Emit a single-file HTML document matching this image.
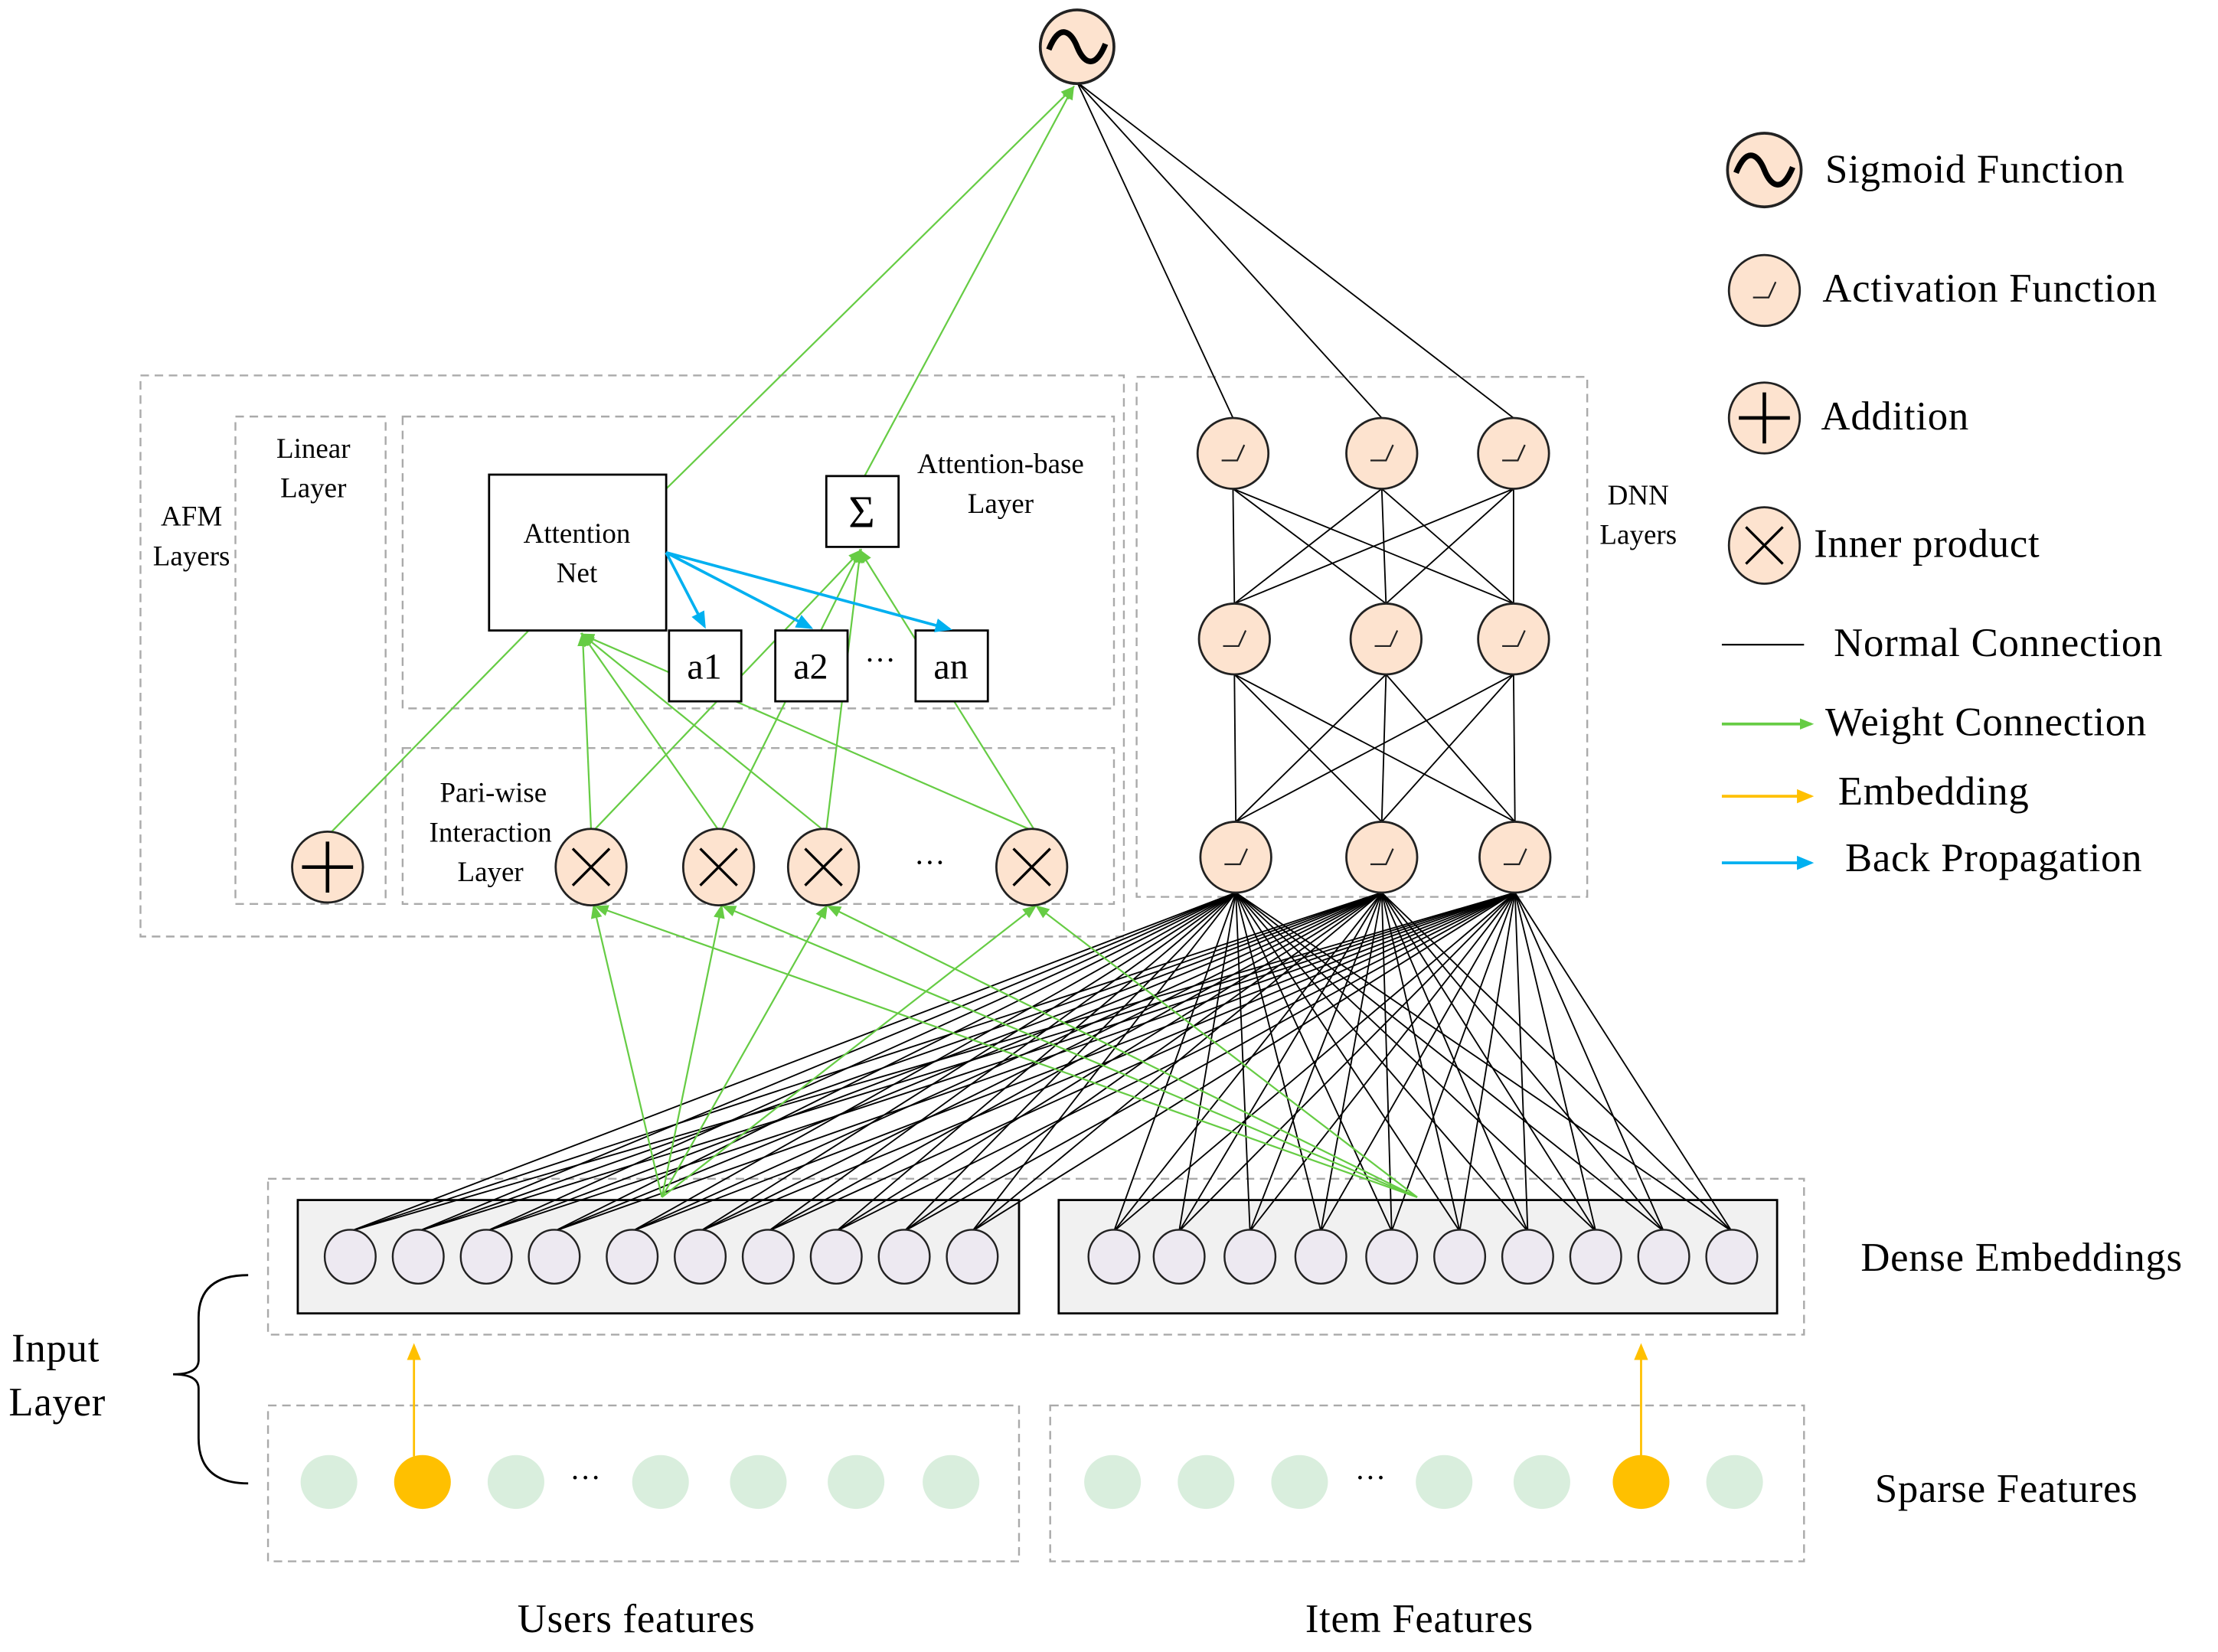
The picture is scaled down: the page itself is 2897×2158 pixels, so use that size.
<!DOCTYPE html>
<html><head><meta charset="utf-8"><style>
html,body{margin:0;padding:0;background:#fff;}
svg{display:block;}
text{font-family:"Liberation Serif",serif;fill:#000;}
</style></head><body>
<svg id="s" width="2897" height="2158" viewBox="0 0 1565 1166" xmlns="http://www.w3.org/2000/svg">
<defs>
<marker id="ag" markerWidth="10" markerHeight="10" refX="8" refY="5" orient="auto" markerUnits="userSpaceOnUse"><path d="M0,1 L10,5 L0,9 z" fill="#66cc44"/></marker>
<marker id="ab" markerWidth="12" markerHeight="10" refX="10" refY="5" orient="auto" markerUnits="userSpaceOnUse"><path d="M0,0 L12,5 L0,10 z" fill="#00b0f0"/></marker>
<marker id="ay" markerWidth="12" markerHeight="10" refX="10" refY="5" orient="auto" markerUnits="userSpaceOnUse"><path d="M0,0 L12,5 L0,10 z" fill="#ffc000"/></marker>
</defs>
<g fill="none" stroke="#aaa" stroke-width="1.3" stroke-dasharray="6,4">
<rect x="99" y="265" width="694" height="396"/>
<rect x="166" y="294" width="106" height="344"/>
<rect x="284" y="294" width="502" height="206"/>
<rect x="284" y="528" width="502" height="110"/>
<rect x="802" y="266" width="318" height="367"/>
<rect x="189" y="832" width="1084" height="110"/>
<rect x="189" y="992" width="530" height="110"/>
<rect x="741" y="992" width="532" height="110"/>
</g>
<rect x="210" y="847" width="509" height="80" fill="#f1f1f1" stroke="#000" stroke-width="1.5"/>
<rect x="747" y="847" width="507" height="80" fill="#f1f1f1" stroke="#000" stroke-width="1.5"/>
<g id="black" stroke="#000" stroke-width="1"></g>
<g id="green" stroke="#66cc44" stroke-width="1.2" fill="none"></g>
<g id="nodes"></g>
<rect x="345" y="335" width="125" height="110" fill="#fff" stroke="#000" stroke-width="1.5"/>
<text x="407" y="383" font-size="20" text-anchor="middle">Attention</text>
<text x="407" y="411" font-size="20" text-anchor="middle">Net</text>
<rect x="583" y="336" width="51" height="50" fill="#fff" stroke="#000" stroke-width="1.5"/>
<text x="608" y="372" font-size="32" text-anchor="middle">Σ</text>
<rect x="472" y="445" width="51" height="50" fill="#fff" stroke="#000" stroke-width="1.5"/>
<rect x="547" y="445" width="51" height="50" fill="#fff" stroke="#000" stroke-width="1.5"/>
<rect x="646" y="445" width="51" height="50" fill="#fff" stroke="#000" stroke-width="1.5"/>
<text x="497" y="479" font-size="26" text-anchor="middle">a1</text>
<text x="572" y="479" font-size="26" text-anchor="middle">a2</text>
<text x="671" y="479" font-size="26" text-anchor="middle">an</text>
<text x="621" y="473" font-size="22" text-anchor="middle">···</text>
<g stroke="#00b0f0" stroke-width="2" fill="none">
<line x1="470" y1="390" x2="497" y2="442" marker-end="url(#ab)"/>
<line x1="470" y1="390" x2="572" y2="443" marker-end="url(#ab)"/>
<line x1="470" y1="390" x2="670" y2="444" marker-end="url(#ab)"/>
</g>
<g stroke="#ffc000" stroke-width="1.5">
<line x1="292" y1="1028" x2="292" y2="950" marker-end="url(#ay)"/>
<line x1="1158" y1="1028" x2="1158" y2="950" marker-end="url(#ay)"/>
</g>
<path d="M175,900 Q140,900 140,930 L140,960 Q140,970 122,970 Q140,970 140,980 L140,1015 Q140,1047 175,1047" fill="none" stroke="#000" stroke-width="1.5"/>
<g font-size="20" text-anchor="middle">
<text x="221" y="323">Linear</text><text x="221" y="351">Layer</text>
<text x="135" y="371">AFM</text><text x="135" y="399">Layers</text>
<text x="706" y="334">Attention-base</text><text x="706" y="362">Layer</text>
<text x="348" y="566">Pari-wise</text><text x="346" y="594">Interaction</text><text x="346" y="622">Layer</text>
<text x="1156" y="356">DNN</text><text x="1156" y="384">Layers</text>
</g>
<text x="656" y="616" font-size="22" text-anchor="middle">···</text>
<text x="413" y="1050" font-size="22" text-anchor="middle">···</text>
<text x="967" y="1050" font-size="22" text-anchor="middle">···</text>
<g font-size="28.5" letter-spacing="0.4">
<text x="1288" y="129">Sigmoid Function</text>
<text x="1286" y="213">Activation Function</text>
<text x="1285" y="303">Addition</text>
<text x="1280" y="393">Inner product</text>
<text x="1294" y="463">Normal Connection</text>
<text x="1288" y="519">Weight Connection</text>
<text x="1297" y="568">Embedding</text>
<text x="1302" y="615">Back Propagation</text>
<text x="1313" y="897">Dense Embeddings</text>
<text x="1323" y="1060">Sparse Features</text>
<text x="8" y="961">Input</text>
<text x="6" y="999">Layer</text>
<text x="365" y="1152">Users features</text>
<text x="921" y="1152">Item Features</text>
</g>
<g stroke-width="2">
<line x1="1215" y1="455" x2="1273" y2="455" stroke="#000" stroke-width="1.2"/>
<line x1="1215" y1="511" x2="1278" y2="511" stroke="#66cc44" marker-end="url(#ag)"/>
<line x1="1215" y1="562" x2="1278" y2="562" stroke="#ffc000" marker-end="url(#ay)"/>
<line x1="1215" y1="609" x2="1278" y2="609" stroke="#00b0f0" marker-end="url(#ab)"/>
</g>
</svg>
<script>
var NS="http://www.w3.org/2000/svg";
function el(p,t,a){var e=document.createElementNS(NS,t);for(var k in a)e.setAttribute(k,a[k]);document.getElementById(p).appendChild(e);return e;}
var B="black",G="green",N="nodes";
var r1=[[870,320],[975,320],[1068,320]],r2=[[871,451],[978,451],[1068,451]],r3=[[872,605],[975,605],[1069,605]];
var eL=[247,295,343,391,446,494,542,590,638,686],eR=[786,832,882,932,982,1030,1078,1126,1174,1222];
var emb=eL.concat(eR);
r1.forEach(function(p){el(B,"line",{x1:760,y1:58,x2:p[0],y2:p[1]-25});});
r1.forEach(function(a){r2.forEach(function(b){el(B,"line",{x1:a[0],y1:a[1]+25,x2:b[0],y2:b[1]-25});});});
r2.forEach(function(a){r3.forEach(function(b){el(B,"line",{x1:a[0],y1:a[1]+25,x2:b[0],y2:b[1]-25});});});
r3.forEach(function(a){emb.forEach(function(x){el(B,"line",{x1:a[0],y1:a[1]+25,x2:x,y2:869});});});
var X=[417,507,581,728];
el(G,"line",{x1:470,y1:345,x2:757,y2:62,"marker-end":"url(#ag)"});
el(G,"line",{x1:610,y1:336,x2:757,y2:62,"marker-end":"url(#ag)"});
el(G,"line",{x1:231,y1:590,x2:373,y2:445});
X.forEach(function(x){el(G,"line",{x1:x,y1:586,x2:411,y2:448,"marker-end":"url(#ag)"});});
X.forEach(function(x){el(G,"line",{x1:x+2,y1:586,x2:607,y2:389,"marker-end":"url(#ag)"});});
X.forEach(function(x){el(G,"line",{x1:467,y1:845,x2:x+2,y2:640,"marker-end":"url(#ag)"});el(G,"line",{x1:1000,y1:845,x2:x+4,y2:640,"marker-end":"url(#ag)"});});
function act(p){el(N,"ellipse",{cx:p[0],cy:p[1],rx:25,ry:25,fill:"#fde3cf",stroke:"#222","stroke-width":1.5});
el(N,"path",{d:"M"+(p[0]-8)+","+(p[1]+5)+" L"+(p[0]+3)+","+(p[1]+5)+" L"+(p[0]+8)+","+(p[1]-6),fill:"none",stroke:"#222","stroke-width":1.2});}
r1.concat(r2,r3).forEach(act);act([1245,205]);
function sig(cx,cy){el(N,"ellipse",{cx:cx,cy:cy,rx:26,ry:26,fill:"#fde3cf",stroke:"#222","stroke-width":2});
el(N,"path",{d:"M"+(cx-20)+","+(cy+2)+" C"+(cx-12)+","+(cy-18)+" "+(cx-4)+","+(cy-10)+" "+cx+","+cy+" S"+(cx+12)+","+(cy+18)+" "+(cx+20)+","+(cy-2),fill:"none",stroke:"#000","stroke-width":4});}
sig(760,33);sig(1245,120);
function plus(cx,cy){el(N,"ellipse",{cx:cx,cy:cy,rx:25,ry:25,fill:"#fde3cf",stroke:"#222","stroke-width":1.5});
el(N,"path",{d:"M"+(cx-18)+","+cy+" H"+(cx+18)+" M"+cx+","+(cy-18)+" V"+(cy+18),stroke:"#000","stroke-width":2.5});}
plus(231,612);plus(1245,295);
function times(cx,cy){el(N,"ellipse",{cx:cx,cy:cy,rx:25,ry:27,fill:"#fde3cf",stroke:"#222","stroke-width":1.5});
el(N,"path",{d:"M"+(cx-13)+","+(cy-13)+" L"+(cx+13)+","+(cy+13)+" M"+(cx+13)+","+(cy-13)+" L"+(cx-13)+","+(cy+13),stroke:"#000","stroke-width":1.8});}
X.forEach(function(x){times(x,612);});times(1245,385);
emb.forEach(function(x){el(N,"ellipse",{cx:x,cy:887,rx:18,ry:19,fill:"#ede9f1",stroke:"#222","stroke-width":1.3});});
[232,298,364,466,535,604,671,785,851,917,1019,1088,1158,1224].forEach(function(x){var o=(x==298||x==1158);
el(N,"ellipse",{cx:x,cy:1046,rx:20,ry:19,fill:o?"#ffc000":"#d9eedd"});});
</script>
</body></html>
